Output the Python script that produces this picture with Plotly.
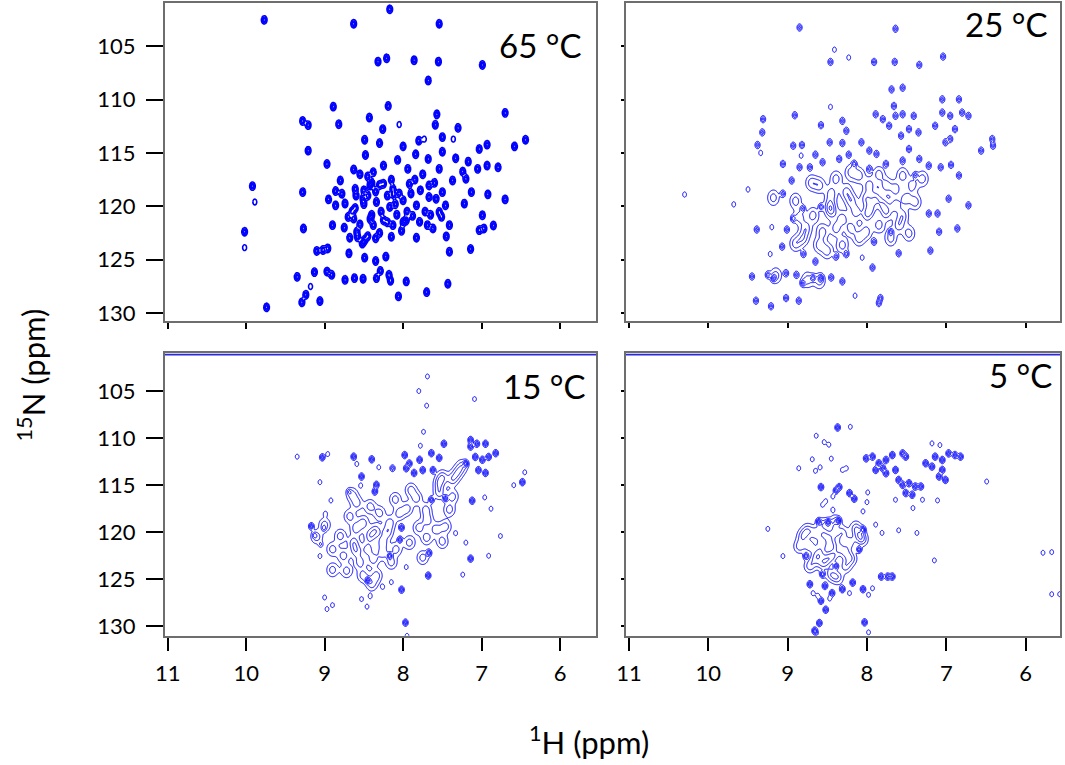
# 1H-15N HSQC spectra at four temperatures
import numpy as np
import plotly.graph_objects as go

# peak positions (1H ppm, 15N ppm)
# 65 °C
peaks65_strong = [
    (9.77, 102.51), (8.63, 102.88), (8.17, 101.52), (7.54, 102.88), (8.32, 106.43), (8.21, 106.12),
    (7.86, 106.30), (7.55, 106.43), (6.99, 106.74), (7.68, 108.20), (8.89, 110.65), (8.19, 110.59),
    (7.57, 111.37), (7.59, 112.36), (6.70, 111.24), (9.28, 112.00), (9.21, 112.39), (8.82, 112.30),
    (8.43, 111.68), (8.26, 112.76), (7.30, 112.64), (9.21, 114.78), (8.49, 113.76), (8.30, 114.07),
    (8.00, 114.38), (7.50, 113.51), (7.80, 113.85), (6.93, 114.22), (6.58, 114.38), (6.44, 113.76),
    (8.48, 115.19), (8.07, 115.65), (7.84, 115.12), (7.68, 115.56), (7.50, 114.88), (7.33, 115.50),
    (7.17, 115.81), (7.03, 114.63), (8.97, 116.03), (8.63, 116.55), (8.38, 116.80), (8.25, 116.18),
    (7.94, 116.49), (7.54, 116.49), (7.24, 116.74), (7.05, 116.49), (6.93, 116.18), (6.79, 116.34),
    (9.92, 118.11), (8.80, 117.58), (9.28, 118.67), (8.86, 118.57), (8.78, 118.82), (8.61, 118.36),
    (8.42, 118.04), (8.25, 117.89), (8.13, 118.36), (7.92, 117.89), (7.67, 118.04), (7.50, 118.67),
    (7.37, 117.58), (7.20, 117.42), (7.13, 118.67), (6.92, 118.88), (6.70, 119.35), (8.95, 119.35),
    (8.86, 119.91), (8.74, 119.75), (8.61, 120.16), (8.51, 119.29), (8.34, 119.60), (8.17, 120.06),
    (8.00, 119.44), (7.83, 119.91), (7.67, 119.13), (7.54, 120.53), (7.46, 119.91), (7.22, 119.75),
    (10.02, 122.39), (9.27, 122.08), (8.90, 121.77), (8.63, 121.15), (8.59, 122.39), (8.38, 121.77),
    (8.25, 121.31), (8.13, 121.77), (7.96, 121.31), (7.79, 121.46), (7.69, 121.77), (7.62, 122.08),
    (7.51, 120.99), (7.41, 121.77), (6.99, 120.84), (7.03, 122.24), (6.97, 122.08), (6.85, 121.80),
    (8.68, 122.95), (8.49, 123.17), (8.15, 122.86), (7.83, 122.95), (7.45, 122.83), (9.10, 124.19),
    (9.02, 124.10), (8.96, 123.95), (8.69, 124.41), (8.49, 124.82), (8.35, 125.13), (8.22, 124.72),
    (7.41, 124.26), (7.14, 124.01), (9.35, 126.62), (9.13, 126.18), (8.97, 126.12), (8.91, 126.43),
    (8.74, 126.90), (8.62, 126.74), (8.51, 126.80), (8.34, 126.74), (8.29, 126.06), (8.18, 126.43),
    (8.16, 126.99), (7.96, 127.05), (7.43, 127.27), (9.24, 128.30), (9.29, 129.01), (9.06, 128.89),
    (8.06, 128.45), (7.70, 128.05), (9.74, 129.48),
    (8.45, 117.20), (8.35, 118.60), (8.20, 119.00), (8.05, 118.80), (7.95, 120.50), (8.40, 120.80),
    (8.55, 121.70), (8.30, 122.50), (8.00, 121.50), (7.75, 117.00), (7.60, 117.80), (8.15, 117.50),
    (8.50, 119.80), (8.65, 120.50), (8.45, 122.80),
    (8.55, 117.00), (8.50, 118.50), (8.45, 119.00), (8.40, 117.80), (8.30, 118.00), (8.28, 120.50),
    (8.20, 121.50), (8.10, 119.80), (8.08, 120.80), (7.90, 118.80), (7.85, 117.50), (7.78, 118.50),
    (7.72, 120.50), (7.65, 120.80), (7.58, 119.30), (8.58, 122.90), (8.52, 123.50), (8.42, 121.20),
    (8.35, 123.00), (8.60, 119.00), (8.70, 121.00), (8.75, 122.00), (7.88, 120.90), (8.02, 122.30),
    (8.12, 118.90),
]
peaks65_weak = [(9.89, 119.60), (10.02, 123.88), (9.18, 127.52), (8.05, 112.33), (7.73, 113.70), (7.36, 113.70)]
peaks65_broad = []

# 25 °C
peaks25_strong = [
    (8.85, 103.23), (7.64, 103.35), (8.46, 106.46), (7.91, 106.46), (7.65, 106.46), (7.34, 106.74),
    (7.04, 105.96), (7.69, 109.04), (7.55, 108.88), (8.91, 111.46), (9.31, 111.83), (9.32, 113.07),
    (8.58, 112.39), (8.31, 111.99), (8.26, 112.92),
    (7.89, 111.37), (7.80, 111.83), (7.72, 112.45), (7.64, 111.52), (7.55, 111.37), (7.47, 112.76),
    (7.57, 113.38), (7.41, 111.52), (7.35, 113.07), (7.66, 110.59),
    (7.05, 109.97), (7.05, 111.21), (6.95, 111.52), (6.89, 112.76), (6.80, 111.21), (6.72, 111.52),
    (7.14, 112.45), (6.95, 113.69), (7.01, 114.00), (6.84, 109.97),
    (6.42, 113.69), (6.41, 114.32), (6.56, 114.78), (9.38, 114.25), (8.93, 114.32), (8.82, 114.25),
    (8.47, 114.00), (8.31, 114.07), (8.07, 114.00), (7.97, 114.78), (7.88, 115.09), (8.65, 115.16),
    (8.56, 115.87), (8.35, 115.56), (8.23, 115.16), (8.16, 116.03), (9.06, 116.03), (8.85, 116.34),
    (8.72, 116.34), (7.07, 116.34), (6.94, 116.12), (6.84, 117.11), (7.22, 116.18), (7.34, 115.56),
    (7.47, 114.63), (7.55, 115.71), (7.76, 116.03), (7.97, 116.49), (7.39, 117.11), (8.95, 117.58),
    (9.06, 118.82), (9.39, 122.18), (9.01, 122.18), (8.93, 121.15), (8.81, 120.22), (8.58, 120.06),
    (7.22, 120.68), (7.11, 120.68), (6.97, 119.29), (6.72, 119.91), (7.09, 122.39), (6.86, 122.08),
    (7.70, 122.39), (7.91, 123.33), (9.07, 123.79), (8.80, 124.48), (8.65, 125.19), (8.39, 124.72),
    (8.26, 124.48), (7.60, 124.41), (7.20, 124.16), (7.93, 125.75), (9.45, 126.59), (9.25, 126.43),
    (9.18, 126.74), (9.02, 126.28), (8.89, 126.43), (8.81, 127.21), (8.68, 126.74), (8.58, 126.74),
    (8.45, 126.68), (8.31, 127.05), (9.40, 128.86), (9.21, 129.38), (9.02, 128.61), (8.86, 128.86),
    (7.83, 128.61), (7.85, 129.08),
]
peaks25_weak = [
    (8.41, 105.31), (8.23, 106.05), (8.46, 110.68), (9.34, 115.00), (8.83, 115.25), (9.50, 118.42),
    (9.68, 119.82), (9.20, 121.96), (9.22, 124.48), (8.06, 124.82), (8.15, 128.39), (10.30, 118.90),
]
peaks25_broad = [
    (8.60, 118.04), (8.39, 117.42), (8.26, 118.67), (8.10, 117.11), (7.97, 118.04), (7.89, 119.29),
    (7.76, 118.04), (7.64, 118.36), (7.55, 117.11), (7.43, 118.04), (7.30, 117.42), (8.68, 120.84),
    (8.47, 119.91), (8.31, 121.15), (8.14, 120.53), (8.01, 119.29), (7.95, 120.22), (7.80, 119.91),
    (7.64, 119.91), (7.51, 119.29), (7.39, 119.60), (8.77, 122.08), (8.56, 122.39), (8.39, 122.08),
    (8.20, 122.08), (8.01, 122.39), (7.85, 121.77), (7.60, 121.77), (7.47, 122.55), (8.81, 123.02),
    (8.60, 123.64), (8.31, 123.64), (8.75, 126.90), (9.15, 126.50),
    (8.90, 119.50), (8.85, 121.00), (8.90, 123.50), (8.45, 120.50), (8.20, 119.50), (8.00, 120.80),
    (7.75, 120.60), (7.55, 120.90), (8.10, 123.00), (7.70, 123.00), (8.45, 118.80), (8.70, 117.80),
    (8.20, 116.80), (7.85, 117.00), (9.18, 119.20), (8.50, 124.20), (8.60, 127.00),
]

# 15 °C
peaks15_strong = [
    (7.98, 111.8), (7.92, 112.7), (7.79, 112.3), (7.75, 113.4), (7.64, 111.6), (7.54, 112.1),
    (7.48, 110.6), (7.86, 113.7), (7.62, 113.4), (7.96, 113.2),
    (7.14, 110.2), (7.14, 110.9), (7.06, 110.6), (6.95, 110.6), (7.20, 112.7), (7.08, 112.0),
    (6.99, 112.3), (6.91, 112.0), (6.82, 111.6), (7.04, 113.4), (6.95, 113.7),
    (9.03, 112.04), (8.63, 111.97), (8.40, 112.25), (8.53, 114.08), (8.36, 115.67), (8.34, 114.96),
    (9.17, 119.36), (7.64, 116.55), (7.12, 116.65), (7.67, 122.2), (7.68, 124.6), (7.14, 122.8),
    (8.02, 126.1), (7.97, 129.6), (8.02, 119.5), (8.04, 120.8), (8.17, 122.5), (8.45, 125.1),
    (7.46, 116.4), (6.48, 114.68),
]
peaks15_weak = [
    (9.35, 111.97), (8.96, 111.69), (9.06, 114.68), (8.92, 116.62), (8.99, 118.03), (9.01, 119.61),
    (9.13, 120.31), (9.05, 121.3), (9.06, 122.53), (9.00, 126.93), (8.97, 128.16), (8.90, 127.74),
    (8.59, 112.75), (8.31, 113.1), (8.54, 115.03), (8.69, 115.67), (8.14, 113.2), (7.69, 103.45),
    (7.80, 105.0), (7.70, 106.55), (7.09, 105.85), (7.74, 109.33), (7.78, 110.81), (8.13, 113.2),
    (6.45, 113.63), (6.59, 115.0), (6.96, 116.3), (6.88, 117.5), (6.76, 120.4), (6.91, 122.5),
    (7.24, 124.5), (7.96, 123.7), (7.95, 131.0), (8.26, 125.8), (8.15, 125.3), (8.53, 127.1),
    (8.42, 126.8), (8.46, 127.9), (7.33, 120.1), (7.20, 121.1),
]
peaks15_broad = [
    (7.50, 114.1), (7.37, 114.4), (7.31, 113.7), (7.25, 113.0), (7.54, 114.8), (7.41, 117.6),
    (7.54, 115.8), (7.37, 116.2), (7.83, 116.4), (7.90, 115.5), (7.71, 117.6), (7.69, 118.7),
    (7.58, 119.7), (7.46, 119.4), (7.92, 121.1), (8.09, 121.8), (7.75, 122.7),
    (8.59, 116.9), (8.42, 117.25), (8.68, 118.3), (8.51, 119.0), (8.30, 117.96), (8.17, 119.0),
    (8.80, 120.4), (8.63, 121.1), (8.42, 120.4), (8.26, 121.1), (8.76, 122.5), (8.55, 123.2),
    (8.38, 122.9), (8.26, 122.2), (8.72, 124.1), (8.51, 124.6), (8.34, 124.6), (8.15, 123.2),
    (9.00, 119.2), (9.10, 120.5), (8.90, 121.8), (8.60, 119.6), (8.35, 119.8), (8.45, 121.8),
    (8.60, 122.0), (8.20, 120.0), (8.05, 118.0), (7.95, 117.5), (8.10, 116.5), (7.80, 119.5),
    (7.70, 120.6), (7.50, 121.0), (8.65, 116.0), (8.90, 124.0), (8.40, 125.5),
]

# 5 °C
peaks5_strong = [
    (8.01, 112.15), (7.93, 111.97), (7.85, 112.67), (7.76, 112.32), (7.68, 111.80), (7.55, 111.62),
    (7.51, 111.97), (7.89, 113.38), (7.76, 113.73), (7.64, 113.38), (7.80, 113.20),
    (7.26, 112.67), (7.18, 113.03), (7.14, 111.97), (7.05, 112.32), (6.97, 111.62), (6.89, 111.80),
    (6.82, 111.97), (7.05, 113.38), (7.09, 114.08), (7.01, 114.44),
    (7.60, 114.44), (7.55, 114.96), (7.47, 114.79), (7.51, 115.84), (7.43, 116.02), (7.39, 115.14),
    (7.32, 115.14), (8.39, 115.56), (8.35, 115.20), (8.58, 115.20), (8.22, 115.84), (8.16, 116.44),
    (8.37, 108.87), (7.74, 124.71), (7.68, 124.71), (7.82, 124.71), (8.72, 125.52), (8.53, 125.70),
    (8.44, 126.47), (8.58, 127.28), (8.31, 126.05), (8.18, 125.35), (8.05, 126.05), (8.52, 128.23),
    (8.60, 129.64), (8.66, 130.45), (8.03, 129.57), (8.61, 118.87), (8.49, 118.94), (8.36, 118.77),
    (8.77, 122.53), (8.39, 123.59), (8.56, 124.47), (8.10, 121.83), (8.05, 119.72),
]
peaks5_weak = [
    (8.21, 108.80), (8.64, 109.75), (8.54, 110.42), (8.48, 110.70), (8.69, 112.25), (8.45, 112.18),
    (8.86, 113.20), (8.65, 113.48), (8.59, 113.10), (8.31, 113.38), (8.26, 113.20), (8.43, 116.20),
    (8.52, 116.70), (8.56, 117.08), (8.43, 117.60), (7.99, 115.77), (8.00, 116.80), (8.05, 117.78),
    (9.25, 119.64), (9.06, 122.53), (7.89, 119.19), (7.81, 120.07), (7.60, 119.79), (7.37, 120.07),
    (7.15, 122.99), (8.68, 126.47), (8.62, 126.75), (8.47, 127.04), (8.22, 126.47), (7.93, 125.95),
    (7.98, 126.65), (8.64, 130.70), (7.98, 130.63), (7.18, 110.56), (7.08, 110.74), (6.49, 114.61),
    (5.78, 122.18), (5.67, 122.11), (5.67, 126.58), (5.57, 126.58), (7.64, 116.55), (7.42, 117.43),
    (7.30, 116.55), (7.11, 116.62),
]
peaks5_broad = [
    (8.81, 120.42), (8.64, 120.07), (8.47, 119.72), (8.31, 120.07), (8.14, 119.54), (8.72, 121.48),
    (8.56, 121.12), (8.39, 120.77), (8.22, 121.12), (8.06, 120.77), (8.60, 122.18), (8.43, 122.53),
    (8.27, 122.18), (8.72, 123.59), (8.56, 123.41), (8.27, 123.59), (8.45, 124.47), (8.37, 124.82),
    (8.75, 119.80), (8.55, 119.20), (8.35, 121.70), (8.50, 122.90), (8.65, 122.80), (8.20, 122.80),
    (8.10, 120.30), (8.85, 121.50), (8.40, 118.90),
]

labels = ["65 °C", "25 °C", "15 °C", "5 °C"]
h_ticks = [6, 7, 8, 9, 10, 11]
n_ticks = [105, 110, 115, 120, 125, 130]
folded_n = 101.12  # folded signal running along the top of the low temperature spectra


def spectrum(strong, weak, broad, amp, sig, amp_b, sig_b):
    pts = strong + weak + broad
    xs = [p[0] for p in pts]
    ys = [p[1] for p in pts]
    gx = np.arange(min(xs) - 0.25, max(xs) + 0.25, 0.007)
    gy = np.arange(min(ys) - 1.8, max(ys) + 1.8, 0.06)
    X, Y = np.meshgrid(gx, gy)
    Z = np.zeros_like(X)
    for group, a, (sx, sy) in [(strong, amp, sig), (weak, 0.24, sig), (broad, amp_b, sig_b)]:
        for px, py in group:
            Z += a * np.exp(-0.5 * ((X - px) / sx) ** 2 - 0.5 * ((Y - py) / sy) ** 2)
    return gx, gy, Z.astype(np.float32)


# strong amplitude, strong widths, broad amplitude, broad widths, contour line width
panels = [
    (peaks65_strong, peaks65_weak, peaks65_broad, 0.5, (0.021, 0.23), 0.0, (0.05, 0.5), 1.6),
    (peaks25_strong, peaks25_weak, peaks25_broad, 0.45, (0.02, 0.21), 0.34, (0.05, 0.5), 1),
    (peaks15_strong, peaks15_weak, peaks15_broad, 0.6, (0.02, 0.22), 0.34, (0.05, 0.5), 1),
    (peaks5_strong, peaks5_weak, peaks5_broad, 0.6, (0.02, 0.22), 0.34, (0.05, 0.5), 1),
]

fig = go.Figure()

for i, (s, w, b, amp, sig, amp_b, sig_b, lw) in enumerate(panels):
    gx, gy, Z = spectrum(s, w, b, amp, sig, amp_b, sig_b)
    ax = "" if i == 0 else str(i + 1)
    fig.add_trace(go.Contour(
        x=gx, y=gy, z=Z, autocontour=False,
        contours=dict(coloring="none", start=0.12, end=4, size=0.14),
        line=dict(color="#0000ff", width=lw), showscale=False, hoverinfo="skip",
        xaxis="x" + ax, yaxis="y" + ax,
    ))
    if i > 1:
        fig.add_trace(go.Scatter(
            x=[h_ticks[-1] + 0.1, h_ticks[0] - 0.5], y=[folded_n] * 2,
            mode="lines", line=dict(color="#2a2ad8", width=2),
            hoverinfo="skip", showlegend=False, xaxis="x" + ax, yaxis="y" + ax,
        ))

x_left = [0.1465, 0.5556]
x_right = [0.5838, 0.9953]
y_top = [0.5778, 0.9965]
y_bot = [0.1634, 0.535]

frame = dict(showline=True, linecolor="#6e6e6e", linewidth=1.5, mirror=True, ticks="outside",
             tickcolor="black", tickwidth=1.5, showgrid=False, zeroline=False,
             tickfont=dict(family="Lato", size=22, color="black"))

fig.update_layout(
    width=1065, height=765,
    margin=dict(l=0, r=0, t=0, b=0),
    paper_bgcolor="white", plot_bgcolor="white",
    showlegend=False,
    xaxis=dict(frame, domain=x_left, range=[11.04, 5.54], tickvals=h_ticks, ticklen=6,
               showticklabels=False, anchor="y"),
    yaxis=dict(frame, domain=y_top, range=[130.75, 100.9], tickvals=n_ticks, ticklen=17,
               ticklabelstandoff=6, anchor="x"),
    xaxis2=dict(frame, domain=x_right, range=[11.04, 5.565], tickvals=h_ticks, ticklen=5,
                showticklabels=False, anchor="y2"),
    yaxis2=dict(frame, domain=y_top, range=[130.75, 100.9], tickvals=n_ticks, ticklen=3,
                showticklabels=False, anchor="x2"),
    xaxis3=dict(frame, domain=x_left, range=[11.04, 5.54], tickvals=h_ticks, ticklen=13,
                ticklabelstandoff=4, anchor="y3"),
    yaxis3=dict(frame, domain=y_bot, range=[131, 101], tickvals=n_ticks, ticklen=17,
                ticklabelstandoff=6, anchor="x3"),
    xaxis4=dict(frame, domain=x_right, range=[11.04, 5.565], tickvals=h_ticks, ticklen=13,
                ticklabelstandoff=4, anchor="y4"),
    yaxis4=dict(frame, domain=y_bot, range=[131, 101], tickvals=n_ticks, ticklen=3,
                showticklabels=False, anchor="x4"),
)

# temperature labels inside each spectrum
label_pos = [(0.969, 0.868), (0.975, 0.934), (0.978, 0.883), (0.986, 0.922)]
for i, (text, (lx, ly)) in enumerate(zip(labels, label_pos)):
    ax = "" if i == 0 else str(i + 1)
    fig.add_annotation(text=text, xref="x" + ax + " domain", yref="y" + ax + " domain",
                       x=lx, y=ly, xanchor="right", yanchor="middle", showarrow=False,
                       font=dict(family="Lato", size=33, color="black"))

# axis titles
fig.add_annotation(text="<sup>15</sup>N (ppm)", xref="paper", yref="paper", x=0.02, y=0.506,
                   xanchor="center", yanchor="middle", textangle=-90, showarrow=False,
                   font=dict(family="Lato", size=31, color="black"))
fig.add_annotation(text="<sup>1</sup>H (ppm)", xref="paper", yref="paper", x=0.549, y=0.026,
                   xanchor="center", yanchor="middle", showarrow=False,
                   font=dict(family="Lato", size=31, color="black"))

# the page body has a default margin; drop it so the figure sits at the window corner
fig.write_html("out.html", config={"displayModeBar": False},
               post_script="document.body.style.margin='0';")
